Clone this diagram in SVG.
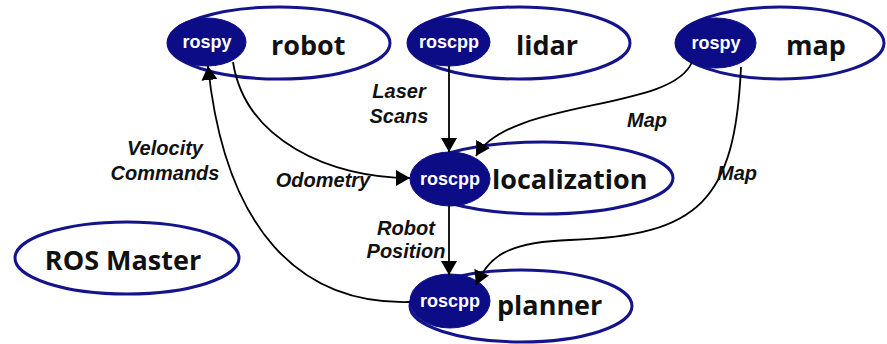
<svg xmlns="http://www.w3.org/2000/svg" width="887" height="344" viewBox="0 0 887 344">
  <defs>
    <marker id="arrow" viewBox="0 0 14 16" refX="14" refY="8" markerWidth="14" markerHeight="16" markerUnits="userSpaceOnUse" orient="auto">
      <path d="M0,0 L14,8 L0,16 Z" fill="#000"/>
    </marker>
    <style>
      .outer { fill: #fff; stroke: #14148a; stroke-width: 3; }
      .core { fill: #0c0c86; stroke: #0c0c86; stroke-width: 1; }
      .lib { font-family: "Liberation Sans", Arial, sans-serif; font-weight: bold; font-size: 18px; fill: #fff; text-anchor: middle; }
      .name { font-family: "Open Sans", "Liberation Sans", sans-serif; font-weight: bold; font-size: 27px; fill: #111; }
      .edge { fill: none; stroke: #000; stroke-width: 1.8; marker-end: url(#arrow); }
      .lbl { font-family: "Liberation Sans", Arial, sans-serif; font-weight: bold; font-style: italic; font-size: 20px; fill: #111; text-anchor: middle; }
    </style>
  </defs>
  <rect width="887" height="344" fill="#fff"/>

  <g id="robot">
    <ellipse class="outer" cx="279" cy="43" rx="111" ry="36"/>
    <ellipse class="core" cx="207" cy="42" rx="39" ry="24"/>
    <text class="lib" x="207" y="48">rospy</text>
    <text class="name" x="271" y="55">robot</text>
  </g>

  <g id="lidar">
    <ellipse class="outer" cx="519" cy="43" rx="111" ry="36"/>
    <ellipse class="core" cx="449" cy="42" rx="41" ry="24"/>
    <text class="lib" x="449" y="48">roscpp</text>
    <text class="name" x="516" y="55">lidar</text>
  </g>

  <g id="map">
    <ellipse class="outer" cx="780" cy="43" rx="104" ry="36"/>
    <ellipse class="core" cx="716" cy="43" rx="40" ry="25"/>
    <text class="lib" x="716" y="49">rospy</text>
    <text class="name" x="786" y="55">map</text>
  </g>

  <g id="localization">
    <ellipse class="outer" cx="543" cy="178" rx="130" ry="36"/>
    <ellipse class="core" cx="450" cy="179" rx="40" ry="27"/>
    <text class="lib" x="450" y="185">roscpp</text>
    <text class="name" x="492" y="189">localization</text>
  </g>

  <g id="planner">
    <ellipse class="outer" cx="521" cy="306" rx="111" ry="36"/>
    <ellipse class="core" cx="450" cy="301" rx="40" ry="27"/>
    <text class="lib" x="450" y="307">roscpp</text>
    <text class="name" x="497" y="315">planner</text>
  </g>

  <g id="ros_master">
    <ellipse class="outer" cx="127" cy="258" rx="112" ry="36"/>
    <text class="name" x="123" y="270" text-anchor="middle">ROS Master</text>
  </g>

  <g id="connectors">
    <!-- lidar -> localization -->
    <path class="edge" d="M449,66 L449,152"/>
    <!-- localization -> planner -->
    <path class="edge" d="M449,206 L449,275"/>
    <!-- robot -> localization (odometry) -->
    <path class="edge" d="M233,62 C245,140 330,178 410,178"/>
    <!-- planner -> robot (velocity commands) -->
    <path class="edge" d="M410,302 C300,305 225,230 208,66"/>
    <!-- map -> localization -->
    <path class="edge" d="M692,62 C672,112 510,98 476,156"/>
    <!-- map -> planner -->
    <path class="edge" d="M741,67 C735,200 700,236 570,240 C505,242 488,258 476,285"/>

    <text class="lbl" x="399" y="98">Laser</text>
    <text class="lbl" x="399" y="123">Scans</text>
    <text class="lbl" x="406" y="235">Robot</text>
    <text class="lbl" x="406" y="258">Position</text>
    <text class="lbl" x="165" y="155">Velocity</text>
    <text class="lbl" x="165" y="180">Commands</text>
    <text class="lbl" x="323" y="187">Odometry</text>
    <text class="lbl" x="647" y="127">Map</text>
    <text class="lbl" x="737" y="180">Map</text>
  </g>
</svg>
